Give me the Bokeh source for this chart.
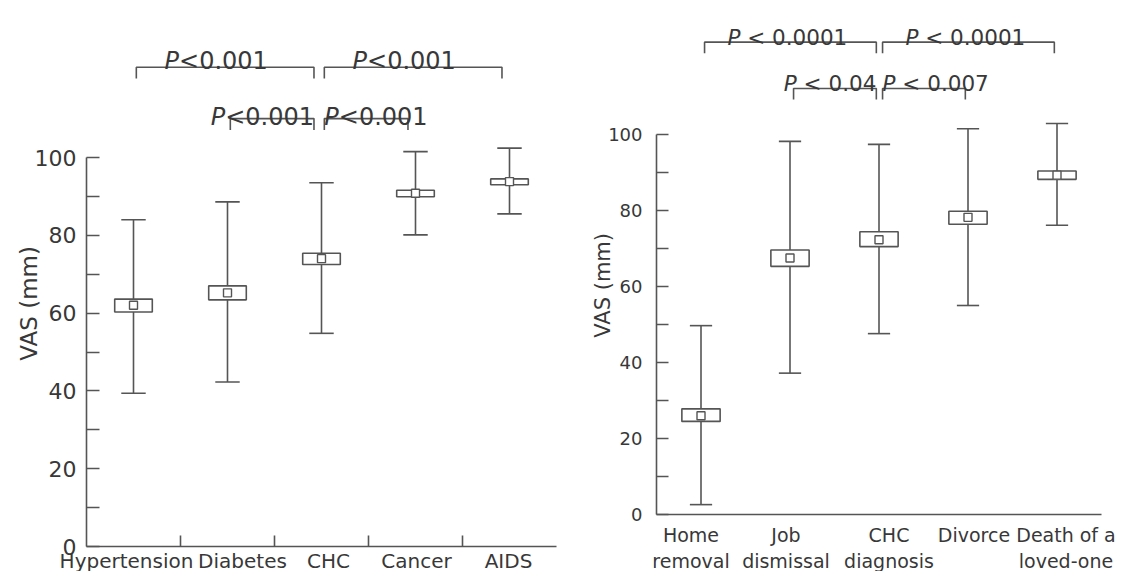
import math
from bokeh.plotting import figure
from bokeh.models import Range1d, FixedTicker, ColumnDataSource, LinearAxis
from bokeh.core.properties import value
from bokeh.embed import file_html
from bokeh.resources import INLINE

# ---------------- data: left panel ----------------
left_categories = ["Hypertension", "Diabetes", "CHC", "Cancer", "AIDS"]
left_mean = [62.0, 65.2, 74.0, 90.8, 93.8]
left_box_low = [60.3, 63.4, 72.5, 89.9, 93.0]
left_box_high = [63.6, 67.0, 75.4, 91.6, 94.5]
left_whisker_low = [39.4, 42.3, 54.8, 80.1, 85.5]
left_whisker_high = [84.0, 88.6, 93.5, 101.5, 102.4]
left_reference = 2          # CHC, the group all comparisons refer to
left_cmp_from = [0, 2, 1, 2]
left_cmp_to = [2, 4, 2, 3]
left_cmp_label = ["P<0.001", "P<0.001", "P<0.001", "P<0.001"]
left_cmp_level = [1, 1, 0, 0]

# ---------------- data: right panel ----------------
right_categories = ["Home\nremoval", "Job\ndismissal", "CHC\ndiagnosis", "Divorce", "Death of a\nloved-one"]
right_mean = [26.0, 67.5, 72.3, 78.2, 89.3]
right_box_low = [24.5, 65.3, 70.5, 76.4, 88.2]
right_box_high = [27.8, 69.6, 74.4, 79.8, 90.4]
right_whisker_low = [2.6, 37.2, 47.6, 55.0, 76.1]
right_whisker_high = [49.7, 98.2, 97.4, 101.5, 102.9]
right_reference = 2
right_cmp_from = [0, 2, 1, 2]
right_cmp_to = [2, 4, 2, 3]
right_cmp_label = ["P < 0.0001", "P < 0.0001", "P < 0.04", "P < 0.007"]
right_cmp_level = [1, 1, 0, 0]

# ---------------- layout / style constants ----------------
LINE = "#555555"
TEXT = "#383838"
FONT = "DejaVu Sans"
NBSP = "\u00a0"
W, H = 1126, 571
# small horizontal nudges (px) of the category labels, as typeset in the original
LEFT_LABEL_NUDGE = [-7, 15, 7, 1, -1]
RIGHT_LABEL_NUDGE = [-10, -4, 10, 6, 9]

# approximate DejaVu Sans advance widths (em)
CW = {"P": 0.603, "<": 0.838, ".": 0.318, " ": 0.318}


def text_width(s, size):
    return sum(CW.get(c, 0.636) for c in s) * size


def span(px0, px_per_unit, lo_px, hi_px):
    return (lo_px - px0) / px_per_unit, (hi_px - px0) / px_per_unit


lx0, lx1 = span(133.0, 94.0, 0, W)           # left categories: first centred at 133px, 94px apart
rx0, rx1 = span(700.5, 89.0, 0, W)           # right categories: first at 700.5px, 89px apart
ly_scale, ly_zero = 3.89, 546.0              # left value axis: 0 at 546px
ry_scale, ry_zero = 3.80, 514.0              # right value axis: 0 at 514px

p = figure(width=W, height=H, output_backend="svg", toolbar_location=None,
           x_range=Range1d(lx0, lx1),
           y_range=Range1d(-(H - ly_zero) / ly_scale, ly_zero / ly_scale),
           x_axis_type=None, y_axis_type=None,
           min_border_left=0, min_border_right=0, min_border_bottom=0, min_border_top=0)
p.extra_x_ranges = {"rx": Range1d(rx0, rx1)}
p.extra_y_ranges = {"ry": Range1d(-(H - ry_zero) / ry_scale, ry_zero / ry_scale)}
p.outline_line_color = None
p.xgrid.visible = False
p.ygrid.visible = False
p.background_fill_color = "white"
p.border_fill_color = "white"


def panel(xr, yr, cats, mean, blo, bhi, wlo, whi, ref, cfrom, cto, clabel, clevel,
          box_half, cap_half, tick_font, xlab_font, alab_font, ann_font,
          ytick_len, xminor_len, y_standoff, x_standoff, label_nudge,
          alab_dx, alab_y, bracket_y, text_y, drop, start_in, end_in, text_shift):
    n = len(cats)
    xs = list(range(n))
    rn = dict(x_range_name=xr, y_range_name=yr)
    src = ColumnDataSource(dict(x=xs, mean=mean, blo=blo, bhi=bhi, wlo=wlo, whi=whi,
                                l=[x - box_half for x in xs], r=[x + box_half for x in xs],
                                cl=[x - cap_half for x in xs], cr=[x + cap_half for x in xs],
                                cat=cats, zero=[0] * n, nudge=label_nudge))
    p.segment(x0="x", y0="wlo", x1="x", y1="whi", source=src, line_color=LINE, line_width=1.6, **rn)
    p.segment(x0="cl", y0="whi", x1="cr", y1="whi", source=src, line_color=LINE, line_width=1.6, **rn)
    p.segment(x0="cl", y0="wlo", x1="cr", y1="wlo", source=src, line_color=LINE, line_width=1.6, **rn)
    p.quad(left="l", right="r", bottom="blo", top="bhi", source=src,
           fill_color="white", line_color=LINE, line_width=1.6, **rn)
    p.scatter(x="x", y="mean", source=src, marker="square", size=8,
              fill_color="white", line_color=LINE, line_width=1.4, **rn)

    # category labels below the axis
    p.text(x="x", y="zero", text="cat", source=src, x_offset="nudge", y_offset=x_standoff,
           text_align="center", text_baseline="top", text_font=value(FONT),
           text_font_size=f"{xlab_font}px", text_color=TEXT, text_line_height=1.2, **rn)

    # axis title
    p.text(x=[-0.5], y=[alab_y], text=["VAS (mm)"], x_offset=alab_dx, angle=math.pi / 2,
           text_align="center", text_baseline="middle", text_font=value(FONT),
           text_font_size=f"{alab_font}px", text_color=TEXT, **rn)

    # significance brackets
    bx, by = [], []
    tx, ty, rest, offs = [], [], [], []
    wp = CW["P"] * ann_font
    for a, b, lab, lev in zip(cfrom, cto, clabel, clevel):
        y = bracket_y[lev]
        x0 = a + start_in
        x1 = b - end_in
        bx.append([x0, x0, x1, x1])
        by.append([y - drop, y, y, y - drop])
        w = text_width(lab, ann_font)
        if lev == 1:
            anchor, off = (a + b) / 2 + text_shift, -w / 2
        elif b == ref:
            anchor, off = x1, -w
        else:
            anchor, off = x0, 0.0
        tx.append(anchor)
        ty.append(text_y[lev])
        rest.append(lab[1:].replace(" ", NBSP))
        offs.append(off + wp)
    p.multi_line(xs=bx, ys=by, line_color=LINE, line_width=1.6, **rn)
    tsrc = ColumnDataSource(dict(x=tx, y=ty, rest=rest, off=offs, p=["P"] * len(tx)))
    p.text(x="x", y="y", text="p", source=tsrc, x_offset="off", text_align="right",
           text_baseline="alphabetic", text_font=value(FONT), text_font_style="italic",
           text_font_size=f"{ann_font}px", text_color=TEXT, **rn)
    p.text(x="x", y="y", text="rest", source=tsrc, x_offset="off", text_align="left",
           text_baseline="alphabetic", text_font=value(FONT),
           text_font_size=f"{ann_font}px", text_color=TEXT, **rn)

    # value axis at the panel's left edge
    ya = LinearAxis(fixed_location=-0.5, **rn)
    ya.ticker = FixedTicker(ticks=[0, 20, 40, 60, 80, 100], minor_ticks=[10, 30, 50, 70, 90])
    ya.bounds = (0, 100)
    ya.axis_line_color = LINE
    ya.axis_line_width = 1.6
    ya.major_tick_line_color = LINE
    ya.minor_tick_line_color = LINE
    ya.major_tick_line_width = 1.6
    ya.minor_tick_line_width = 1.6
    ya.major_tick_in = ytick_len
    ya.major_tick_out = 0
    ya.minor_tick_in = ytick_len
    ya.minor_tick_out = 0
    ya.major_label_standoff = y_standoff
    ya.major_label_text_font = FONT
    ya.major_label_text_font_size = f"{tick_font}px"
    ya.major_label_text_color = TEXT
    p.add_layout(ya, "left")

    # category axis line at value 0 (ticks between categories only)
    xa = LinearAxis(fixed_location=0, **rn)
    xa.ticker = FixedTicker(ticks=[], minor_ticks=[x + 0.5 for x in xs[:-1]] if xminor_len else [])
    xa.bounds = (-0.5, n - 0.5)
    xa.axis_line_color = LINE
    xa.axis_line_width = 1.6
    xa.major_tick_in = 0
    xa.major_tick_out = 0
    xa.minor_tick_in = xminor_len
    xa.minor_tick_out = 0
    xa.minor_tick_line_color = LINE if xminor_len else None
    xa.minor_tick_line_width = 1.6
    p.add_layout(xa, "below")


panel("default", "default", left_categories, left_mean, left_box_low, left_box_high,
      left_whisker_low, left_whisker_high, left_reference,
      left_cmp_from, left_cmp_to, left_cmp_label, left_cmp_level,
      box_half=0.2, cap_half=0.13,
      tick_font=22, xlab_font=20, alab_font=23, ann_font=24,
      ytick_len=13, xminor_len=11, y_standoff=10, x_standoff=2, label_nudge=LEFT_LABEL_NUDGE,
      alab_dx=-58, alab_y=62.5,
      bracket_y={0: 110.0, 1: 123.2}, text_y={0: 110.3, 1: 124.9}, drop=2.9,
      start_in=0.03, end_in=0.08, text_shift=-0.12)

panel("rx", "ry", right_categories, right_mean, right_box_low, right_box_high,
      right_whisker_low, right_whisker_high, right_reference,
      right_cmp_from, right_cmp_to, right_cmp_label, right_cmp_level,
      box_half=0.215, cap_half=0.125,
      tick_font=18, xlab_font=19, alab_font=21, ann_font=21.5,
      ytick_len=12, xminor_len=0, y_standoff=14, x_standoff=9, label_nudge=RIGHT_LABEL_NUDGE,
      alab_dx=-54, alab_y=60.3,
      bracket_y={0: 112.1, 1: 124.3}, text_y={0: 113.3, 1: 125.6}, drop=2.9,
      start_in=0.04, end_in=0.03, text_shift=-0.03)

open("out.html", "w").write(file_html(p, INLINE))
